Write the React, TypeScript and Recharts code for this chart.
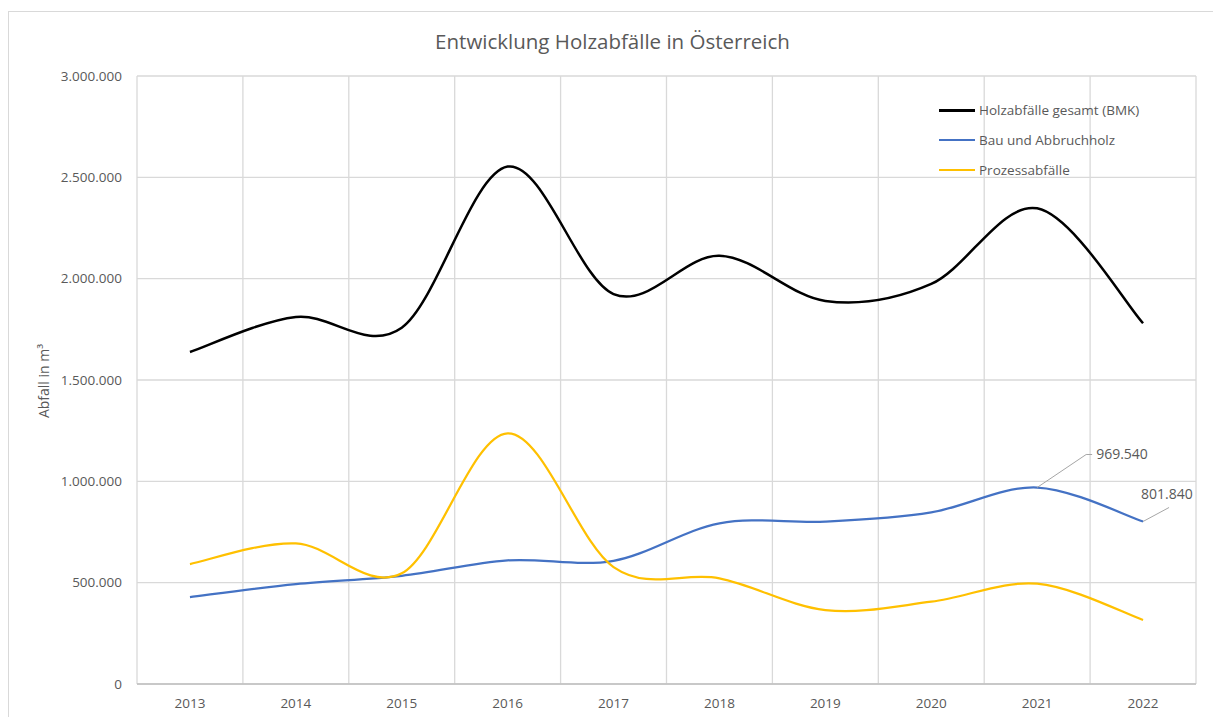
// Entwicklung Holzabfälle in Österreich - smoothed Excel-style line chart.
import { ComposedChart, Line, XAxis, YAxis, CartesianGrid, LabelList } from "recharts";

const YEARS = ["2013", "2014", "2015", "2016", "2017", "2018", "2019", "2020", "2021", "2022"];
const GESAMT = [1638000, 1811000, 1758000, 2553000, 1924000, 2113000, 1890000, 1974000, 2347000, 1780000];
const BAU = [429000, 493000, 534000, 610000, 608000, 793000, 801000, 847000, 969540, 801840];
const PROZESS = [592000, 694000, 546000, 1237000, 577000, 521000, 365000, 406000, 495000, 316000];
const Y_TICKS = [0, 500000, 1000000, 1500000, 2000000, 2500000, 3000000];

const TEXT = "#595959";
const GRID = "#d9d9d9";
const FONT = "'Open Sans', sans-serif";

const SERIES = [
  { key: "gesamt", name: "Holzabfälle gesamt (BMK)", color: "#000000", width: 2.5 },
  { key: "bau", name: "Bau und Abbruchholz", color: "#4472C4", width: 2.25 },
  { key: "prozess", name: "Prozessabfälle", color: "#FFC000", width: 2.25 },
];

// x position = band centre of each year
const data = YEARS.map((y, i) => ({
  pos: i + 0.5,
  year: y,
  gesamt: GESAMT[i],
  bau: BAU[i],
  prozess: PROZESS[i],
}));

const BOUNDS = YEARS.map((_, i) => i).concat([YEARS.length]);
const CENTRES = data.map((d) => d.pos);

function fmtDe(n: number): string {
  return String(Math.round(n)).replace(/\B(?=(\d{3})+(?!\d))/g, ".");
}

// Catmull-Rom style smoothing, close to Excel's "smoothed line"
function excelCurve(context: any) {
  let pts: [number, number][] = [];
  return {
    areaStart() {},
    areaEnd() {},
    lineStart() {
      pts = [];
    },
    lineEnd() {
      const n = pts.length;
      if (!n) return;
      context.moveTo(pts[0][0], pts[0][1]);
      for (let i = 0; i < n - 1; i++) {
        const p0 = pts[i - 1] || pts[i];
        const p1 = pts[i];
        const p2 = pts[i + 1];
        const p3 = pts[i + 2] || p2;
        context.bezierCurveTo(
          p1[0] + (p2[0] - p0[0]) / 6,
          p1[1] + (p2[1] - p0[1]) / 6,
          p2[0] - (p3[0] - p1[0]) / 6,
          p2[1] - (p3[1] - p1[1]) / 6,
          p2[0],
          p2[1]
        );
      }
    },
    point(x: number, y: number) {
      pts.push([+x, +y]);
    },
  };
}

// data labels with leader lines for the last two Bau points
function BauLabel(props: any) {
  const { x, y, index, value } = props;
  if (index === 8) {
    return (
      <g>
        <polyline points={`${x},${y} ${x + 49},${y - 33} ${x + 55},${y - 33}`} fill="none" stroke="#a6a6a6" strokeWidth={1} />
        <text x={x + 59} y={y - 33} dy="0.35em" fontSize={14} fontFamily={FONT} fill={TEXT}>
          {fmtDe(value)}
        </text>
      </g>
    );
  }
  if (index === 9) {
    return (
      <g>
        <polyline points={`${x},${y} ${x + 26},${y - 14}`} fill="none" stroke="#a6a6a6" strokeWidth={1} />
        <text x={x - 2} y={y - 27} dy="0.35em" fontSize={14} fontFamily={FONT} fill={TEXT}>
          {fmtDe(value)}
        </text>
      </g>
    );
  }
  return null;
}

export default function App() {
  return (
    <div style={{ position: "absolute", left: 0, top: 0, width: 1213, height: 717, overflow: "hidden", background: "#fff" }}>
      <div style={{ position: "absolute", left: 8, top: 11, width: 1300, height: 800, border: "1px solid #d9d9d9" }} />
      <div
        style={{
          position: "absolute",
          left: 0,
          width: 1225,
          top: 27,
          textAlign: "center",
          fontFamily: FONT,
          fontSize: 20.5,
          color: TEXT,
        }}
      >
        Entwicklung Holzabfälle in Österreich
      </div>
      <div
        style={{
          position: "absolute",
          left: 43,
          top: 381,
          transform: "translate(-50%, -50%) rotate(-90deg)",
          whiteSpace: "nowrap",
          fontFamily: FONT,
          fontSize: 14,
          color: TEXT,
        }}
      >
        Abfall in m³
      </div>
      <div style={{ position: "absolute", left: 0, top: 0 }}>
        <ComposedChart width={1213} height={717} data={data} margin={{ top: 76, right: 17, bottom: 5, left: 57 }}>
          <CartesianGrid stroke={GRID} strokeWidth={1.3} xAxisId={0} />
          <XAxis xAxisId={0} type="number" dataKey="pos" domain={[0, YEARS.length]} ticks={BOUNDS} height={0} hide />
          <XAxis
            xAxisId="main"
            type="number"
            dataKey="pos"
            domain={[0, YEARS.length]}
            ticks={CENTRES}
            tickFormatter={(v: number) => YEARS[Math.floor(v)]}
            axisLine={{ stroke: "#bfbfbf", strokeWidth: 1.3 }}
            tickLine={false}
            tickSize={0}
            tickMargin={14}
            height={28}
            tick={{ fill: TEXT, fontSize: 13.5, fontFamily: FONT }}
            interval={0}
          />
          <YAxis
            domain={[0, 3000000]}
            ticks={Y_TICKS}
            tickFormatter={fmtDe}
            axisLine={false}
            tickLine={false}
            tickSize={0}
            tickMargin={15}
            width={80}
            tick={{ fill: TEXT, fontSize: 13.5, fontFamily: FONT }}
          />
          {SERIES.map((s) => (
            <Line
              key={s.key}
              xAxisId="main"
              dataKey={s.key}
              name={s.name}
              stroke={s.color}
              strokeWidth={s.width}
              type={excelCurve as any}
              dot={false}
              activeDot={false}
              isAnimationActive={false}
            >
              {s.key === "bau" ? <LabelList dataKey="bau" content={BauLabel} /> : null}
            </Line>
          ))}
        </ComposedChart>
      </div>
      <div style={{ position: "absolute", left: 939, top: 95, fontFamily: FONT, fontSize: 13.5, color: TEXT }}>
        {SERIES.map((s) => (
          <div key={s.key} style={{ display: "flex", alignItems: "center", height: 30 }}>
            <span style={{ width: 36, height: s.key === "gesamt" ? 3 : 2.5, background: s.color, marginRight: 4 }} />
            <span>{s.name}</span>
          </div>
        ))}
      </div>
    </div>
  );
}
